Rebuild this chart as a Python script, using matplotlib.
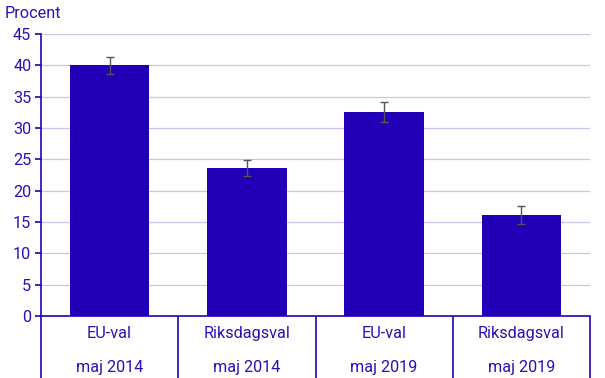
import matplotlib.pyplot as plt

# Andel (procent) per val, med felmarginal
kategorier = ['EU-val\nmaj 2014', 'Riksdagsval\nmaj 2014',
              'EU-val\nmaj 2019', 'Riksdagsval\nmaj 2019']
varden = [40.0, 23.6, 32.5, 16.1]
felmarginal = [1.4, 1.3, 1.6, 1.4]
yticks = [0, 5, 10, 15, 20, 25, 30, 35, 40, 45]

bla = '#2200b8'
textfarg = '#2a10b8'

plt.rcParams['font.family'] = ['Roboto', 'DejaVu Sans']

fig = plt.figure(figsize=(6.05, 3.78), dpi=100)
ax = fig.add_axes([41 / 605, 1 - 316 / 378, (590 - 41) / 605, (316 - 34) / 378])

x = range(len(kategorier))
ax.bar(x, varden, width=0.58, color=bla, zorder=2)
ax.errorbar(x, varden, yerr=felmarginal, fmt='none', ecolor='#555555',
            elinewidth=1.0, capsize=2.6, capthick=1.0, zorder=3)

ax.set_xlim(-0.5, len(kategorier) - 0.5)
ax.set_ylim(0, 45)
ax.set_yticks(yticks)
ax.yaxis.grid(True, color='#c8c4ee', linewidth=0.9, zorder=0)
ax.set_axisbelow(True)

for side in ['top', 'right']:
    ax.spines[side].set_visible(False)
ax.spines['left'].set_color(bla)
ax.spines['bottom'].set_color(bla)
ax.spines['left'].set_linewidth(1.2)
ax.spines['bottom'].set_linewidth(1.2)

ax.tick_params(axis='y', colors=bla, labelcolor=textfarg, labelsize=11.7,
               length=4, width=1.2, pad=3)

# kategorietiketter och avdelare mellan kategorier
ax.set_xticks(list(x))
ax.set_xticklabels(kategorier)
ax.tick_params(axis='x', which='major', length=0, pad=7,
               labelcolor=textfarg, labelsize=11.7)
for lbl in ax.get_xticklabels():
    lbl.set_linespacing(2.6)
ax.set_xticks([i - 0.5 for i in range(len(kategorier) + 1)], minor=True)
ax.tick_params(axis='x', which='minor', length=46, width=1.2,
               color=bla, direction='out')

fig.text(5 / 605, 1 - 13 / 378, 'Procent', color=textfarg, fontsize=11.7,
         va='center', ha='left')

fig.savefig('out.png', dpi=100)
